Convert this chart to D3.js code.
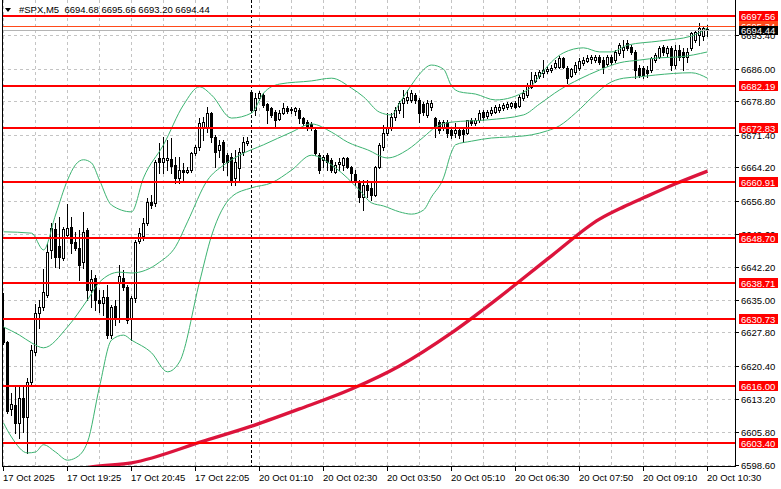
<!DOCTYPE html>
<html><head><meta charset="utf-8">
<script src="https://cdn.jsdelivr.net/npm/d3@7"></script>
<style>
body{margin:0;background:#fff}
svg{display:block}
text{font-family:"Liberation Sans",Arial,sans-serif;font-size:9.5px}
</style>
</head><body>
<svg id="c" width="781" height="489"></svg>
<script>
const symbol = "#SPX,M5";
const lastQuote = [6694.68, 6695.66, 6693.20, 6694.44];
const bidPrice = 6694.44;
const askPrice = 6695.34;

const opens = [6629.0,6625.7,6610.9,6611.8,6607.8,6613.3,6609.1,6616.9,6623.5,6632.1,6633.4,6636.0,6646.0,6650.6,6646.9,6644.2,6649.3,6651.1,6647.8,6646.4,
6643.3,6650.4,6637.2,6639.8,6635.0,6634.3,6635.6,6627.2,6633.6,6638.9,6639.8,6637.8,6631.0,6635.4,6648.0,6649.1,6651.9,6656.6,6656.4,6666.3,
6665.4,6665.9,6666.1,6664.7,6661.9,6663.6,6663.2,6663.6,6667.4,6668.7,6672.9,6672.9,6676.2,6670.9,6668.1,6669.8,6666.9,6666.5,6661.9,6664.1,
6667.6,6669.6,6680.9,6676.9,6679.5,6680.2,6678.2,6677.3,6676.4,6674.9,6676.2,6677.3,6676.9,6676.7,6676.9,6675.1,6674.2,6673.8,6672.5,6666.9,
6665.9,6666.9,6665.9,6663.2,6665.0,6664.7,6666.3,6664.3,6662.8,6660.8,6657.7,6660.3,6659.7,6658.1,6664.3,6668.7,6671.8,6672.9,6675.3,6676.9,
6678.4,6679.1,6679.1,6680.2,6679.1,6678.2,6675.8,6677.5,6675.1,6674.2,6673.1,6674.2,6672.5,6671.8,6672.5,6672.5,6671.8,6674.7,6674.0,6674.7,
6676.4,6675.6,6676.2,6676.4,6676.9,6677.3,6677.5,6677.8,6678.4,6677.8,6679.5,6680.2,6682.0,6683.3,6684.4,6685.1,6685.5,6685.7,6686.4,6686.4,
6688.4,6686.2,6684.4,6685.3,6686.2,6687.3,6687.7,6688.1,6687.9,6688.6,6687.9,6687.0,6688.6,6687.9,6689.5,6690.1,6691.7,6690.8,6689.7,6686.2,
6686.2,6685.7,6685.7,6687.9,6688.6,6690.8,6689.5,6690.6,6686.8,6690.1,6689.7,6688.6,6690.6,6692.3,6693.4,6693.2,6694.68];
const highs = [6636.5,6626.0,6614.4,6616.2,6615.8,6616.2,6617.7,6625.0,6634.1,6635.0,6641.8,6647.5,6652.0,6652.0,6653.3,6651.1,6656.1,6653.3,6650.0,6650.4,
6654.4,6650.8,6641.6,6640.5,6637.2,6637.2,6638.3,6633.9,6635.0,6642.7,6641.6,6638.3,6635.8,6648.2,6650.8,6653.1,6657.5,6658.1,6665.9,6669.6,
6670.9,6670.3,6670.7,6666.5,6666.5,6665.2,6664.3,6667.6,6669.2,6675.1,6675.3,6677.5,6676.4,6671.4,6670.3,6670.3,6667.4,6667.4,6668.1,6668.5,
6670.9,6670.9,6681.3,6680.6,6681.1,6680.6,6678.4,6677.5,6676.9,6676.9,6678.4,6677.8,6677.5,6677.5,6677.3,6675.3,6674.7,6674.2,6672.9,6667.4,
6666.9,6667.4,6666.3,6665.4,6666.3,6666.5,6666.5,6664.5,6663.6,6661.4,6661.4,6661.4,6660.8,6664.5,6669.6,6673.6,6676.2,6676.2,6677.5,6678.9,
6681.3,6681.3,6681.3,6680.6,6679.5,6678.6,6679.1,6679.1,6675.3,6674.7,6674.7,6674.7,6672.9,6674.0,6672.9,6672.9,6674.7,6675.1,6675.1,6676.9,
6676.9,6676.9,6677.5,6678.0,6678.2,6678.4,6678.6,6678.6,6678.9,6680.2,6681.3,6682.8,6685.3,6685.3,6685.7,6687.9,6686.6,6686.8,6687.9,6688.8,
6688.6,6686.6,6686.2,6687.5,6688.4,6688.6,6689.0,6689.0,6689.0,6689.0,6688.6,6689.0,6689.0,6690.1,6691.7,6692.3,6692.3,6691.2,6690.1,6686.8,
6686.6,6686.6,6688.6,6689.5,6691.0,6691.2,6691.0,6691.0,6691.2,6691.2,6690.6,6690.6,6694.1,6694.5,6696.1,6695.4,6695.66];
const lows = [6625.2,6610.0,6609.6,6605.6,6604.5,6605.8,6601.2,6616.4,6622.8,6628.8,6632.7,6635.6,6644.2,6642.2,6642.0,6643.8,6648.6,6645.3,6646.0,6639.4,
6642.0,6635.0,6633.4,6632.7,6632.3,6631.6,6626.6,6626.6,6629.4,6630.1,6637.2,6629.9,6626.1,6634.5,6647.5,6648.2,6651.5,6655.3,6655.7,6663.0,
6663.0,6663.6,6663.0,6660.8,6660.8,6661.0,6663.0,6663.2,6666.9,6668.1,6670.3,6672.0,6669.8,6664.3,6666.5,6663.6,6662.5,6660.3,6660.3,6661.0,
6666.9,6669.2,6676.4,6675.8,6679.1,6677.5,6674.0,6675.3,6673.1,6674.7,6676.0,6676.2,6676.2,6675.8,6674.0,6673.6,6672.5,6672.5,6666.9,6663.0,
6664.3,6663.6,6663.2,6663.0,6663.6,6663.6,6664.1,6661.0,6660.3,6656.6,6654.8,6657.7,6657.0,6657.9,6664.1,6668.1,6671.4,6672.5,6674.7,6676.2,
6675.3,6678.4,6678.6,6678.4,6674.2,6675.8,6675.3,6676.9,6670.9,6671.8,6672.5,6670.9,6670.7,6670.9,6670.7,6669.8,6671.6,6673.6,6673.6,6674.2,
6674.7,6675.1,6675.8,6676.2,6676.4,6676.9,6677.1,6677.3,6677.3,6677.5,6679.1,6679.8,6681.7,6683.1,6683.9,6684.2,6685.1,6685.3,6686.2,6686.2,
6686.2,6682.8,6684.2,6684.8,6685.7,6686.8,6687.5,6687.3,6687.5,6687.0,6685.1,6686.6,6687.0,6687.5,6689.0,6688.6,6690.1,6689.2,6683.9,6684.2,
6683.9,6684.2,6685.3,6687.5,6688.4,6689.0,6688.8,6685.7,6686.2,6687.9,6685.7,6687.5,6690.1,6691.9,6691.2,6692.3,6693.20];
const closes = [6625.7,6610.5,6612.0,6607.8,6613.3,6609.1,6616.9,6623.9,6632.1,6633.4,6636.7,6645.5,6650.8,6644.4,6644.4,6650.6,6650.8,6647.5,6646.4,6642.7,
6650.0,6637.2,6639.6,6635.0,6634.3,6635.6,6627.2,6633.4,6631.0,6640.2,6637.8,6630.5,6635.4,6647.8,6649.7,6651.9,6656.6,6655.9,6665.4,6665.4,
6666.3,6666.3,6664.5,6661.9,6663.6,6663.2,6663.6,6667.4,6668.7,6674.0,6674.2,6676.2,6670.9,6667.6,6669.2,6665.4,6665.4,6661.0,6665.4,6667.6,
6669.8,6670.0,6676.9,6679.5,6680.6,6678.0,6676.9,6675.8,6674.7,6676.2,6677.3,6676.7,6677.1,6677.3,6675.1,6674.0,6672.9,6672.9,6667.4,6663.6,
6666.5,6665.4,6663.6,6664.7,6665.4,6666.3,6664.3,6663.0,6661.0,6657.7,6660.3,6659.2,6658.1,6664.3,6669.2,6671.8,6673.1,6675.3,6676.9,6678.4,
6679.5,6679.8,6680.6,6679.1,6676.2,6676.4,6678.4,6678.4,6672.9,6672.5,6674.2,6671.8,6671.4,6672.5,6671.4,6671.6,6674.7,6674.0,6674.7,6676.2,
6675.3,6676.4,6676.9,6677.5,6677.5,6678.0,6678.2,6678.4,6677.5,6679.8,6680.6,6682.4,6683.5,6684.6,6685.3,6685.7,6685.9,6686.2,6687.3,6688.4,
6686.4,6683.9,6685.9,6686.8,6687.7,6687.9,6688.4,6688.6,6688.6,6687.5,6686.4,6688.6,6687.5,6689.7,6691.2,6690.8,6690.6,6689.7,6685.7,6684.6,
6684.6,6685.1,6688.4,6689.0,6690.6,6689.7,6690.6,6686.8,6690.1,6688.6,6688.6,6689.7,6693.9,6694.1,6695.0,6695.0,6694.44];

// Bollinger bands: [bar index, price]
const bbUpper = [[0,6650.0],[7,6649.7],[10,6646.0],[13,6653.7],[16,6661.4],[18,6664.8],[20,6665.9],[22,6665.2],[24,6661.4],[27,6655.9],
[32,6654.4],[35,6661.9],[40,6669.2],[45,6678.0],[49,6682.0],[52,6680.2],[57,6675.1],[62,6676.2],[65,6680.6],[69,6682.6],[77,6683.3],
[82,6683.9],[87,6681.7],[90,6679.8],[94,6676.4],[97,6675.8],[99,6678.4],[102,6682.4],[104,6684.8],[107,6686.8],[110,6685.9],[112,6682.2],
[114,6680.9],[118,6680.4],[123,6679.1],[131,6681.3],[134,6684.4],[137,6687.5],[140,6689.5],[145,6690.6],[149,6689.7],[152,6689.7],
[156,6691.2],[164,6692.1],[172,6693.2],[176,6695.0]];
const bbMiddle = [[0,6629.0],[4,6627.2],[7,6625.5],[10,6624.4],[16,6629.0],[21,6635.0],[24,6638.9],[29,6641.1],[32,6640.9],[39,6643.3],
[43,6646.7],[46,6652.2],[51,6661.4],[55,6664.7],[59,6666.9],[65,6669.2],[72,6672.0],[77,6673.8],[82,6672.0],[86,6669.8],[91,6668.1],
[96,6666.3],[101,6668.1],[105,6670.9],[108,6673.1],[112,6674.2],[121,6674.7],[130,6675.8],[134,6678.2],[139,6681.3],[144,6683.7],
[149,6685.7],[154,6687.3],[159,6687.9],[164,6688.4],[169,6688.6],[176,6689.7]];
const bbLower = [[0,6607.8],[2,6604.7],[6,6601.2],[8,6601.4],[10,6603.0],[13,6601.4],[16,6599.6],[18,6600.1],[21,6603.6],[24,6615.8],
[27,6626.1],[30,6627.2],[32,6626.1],[37,6623.3],[41,6619.1],[44,6621.3],[49,6638.9],[52,6649.1],[57,6657.7],[62,6659.7],[67,6660.8],
[72,6663.6],[77,6666.9],[83,6664.1],[89,6659.2],[92,6656.4],[95,6655.7],[99,6654.4],[102,6653.9],[105,6654.8],[107,6657.7],[110,6661.9],
[112,6667.6],[113,6669.2],[117,6670.0],[122,6670.7],[126,6670.9],[132,6671.4],[136,6672.3],[139,6673.4],[143,6676.2],[148,6680.4],
[151,6682.6],[155,6683.9],[159,6684.2],[163,6684.6],[172,6685.1],[176,6683.9]];
// Moving average: [bar index, price]
const maLine = [[15,6596.6],[22,6598.1],[32,6599.0],[50,6603.8],[62,6607.1],[74,6610.9],[87,6615.3],[99,6620.4],[112,6627.7],
[124,6635.6],[137,6644.7],[149,6652.8],[155,6655.5],[160,6657.5],[168,6660.6],[176,6663.4]];

const levels = [6697.56, 6682.19, 6672.83, 6660.91, 6648.70, 6638.71, 6630.73, 6616.00, 6603.40];
const priceTicks = [6598.60, 6605.80, 6613.20, 6620.40, 6627.80, 6635.00, 6642.20, 6649.60, 6656.80, 6664.20, 6671.40, 6678.80, 6686.00, 6693.40];
const timeTickIdx = [0, 16, 32, 48, 64, 80, 96, 112, 128, 144, 160, 176];
const timeLabels = ["17 Oct 2025","17 Oct 19:25","17 Oct 20:45","17 Oct 22:05","20 Oct 01:10","20 Oct 02:30","20 Oct 03:50","20 Oct 05:10","20 Oct 06:30","20 Oct 07:50","20 Oct 09:10","20 Oct 10:30"];
const daySeparatorIdx = 62;

const PL = 2, PR = 735, PT = 0, PB = 466;
const svg = d3.select("#c");
const y = d3.scaleLinear().domain([6598.6, 6697.56]).range([464.7, 16.3]);
const x = d3.scaleLinear().domain([0, 176]).range([3.5, 707.5]);

svg.append("defs").append("clipPath").attr("id","plot")
  .append("rect").attr("x",PL+1).attr("y",PT).attr("width",PR-PL-1).attr("height",PB-PT);

const plot = svg.append("g").attr("clip-path","url(#plot)");

// grid
plot.selectAll("line.hg").data(priceTicks).join("line").attr("class","hg")
  .attr("x1",PL).attr("x2",PR)
  .attr("y1",d=>Math.round(y(d))+0.5).attr("y2",d=>Math.round(y(d))+0.5)
  .attr("stroke","#c4c4c4").attr("stroke-dasharray","3,3");
plot.selectAll("line.vg").data(d3.range(0,184,8)).join("line").attr("class","vg")
  .attr("x1",d=>x(d)).attr("x2",d=>x(d)).attr("y1",PT).attr("y2",PB)
  .attr("stroke","#c4c4c4").attr("stroke-dasharray","3,3");
plot.append("line").attr("x1",x(daySeparatorIdx)).attr("x2",x(daySeparatorIdx))
  .attr("y1",PT).attr("y2",PB).attr("stroke","#000").attr("stroke-dasharray","3,2");

// candles
const bars = d3.range(opens.length).map(i=>({i,o:opens[i],h:highs[i],l:lows[i],c:closes[i]}));
const cg = plot.append("g");
cg.selectAll("line").data(bars).join("line")
  .attr("x1",d=>x(d.i)).attr("x2",d=>x(d.i))
  .attr("y1",d=>Math.round(y(d.h))).attr("y2",d=>Math.round(y(d.l))+1)
  .attr("stroke","#000");
cg.selectAll("rect").data(bars).join("rect")
  .attr("x",d=>x(d.i)-1).attr("width",2)
  .attr("y",d=>Math.round(y(Math.max(d.o,d.c)))+0.5)
  .attr("height",d=>Math.max(0,Math.round(y(Math.min(d.o,d.c)))-Math.round(y(Math.max(d.o,d.c)))))
  .attr("fill",d=>d.c>=d.o?"#fff":"#000").attr("stroke","#000");

// indicators
const ln = d3.line().x(d=>x(d[0])).y(d=>y(d[1])).curve(d3.curveMonotoneX);
[bbUpper,bbMiddle,bbLower].forEach(s=>{
  plot.append("path").attr("d",ln(s)).attr("fill","none").attr("stroke","#3cb371").attr("stroke-width",1);
});
plot.append("path").attr("d",ln(maLine)).attr("fill","none").attr("stroke","#dc143c").attr("stroke-width",3.4);

// level lines
plot.selectAll("line.lvl").data(levels).join("line").attr("class","lvl")
  .attr("x1",PL).attr("x2",PR).attr("y1",d=>Math.round(y(d))).attr("y2",d=>Math.round(y(d)))
  .attr("stroke","#ff0000").attr("stroke-width",2);
plot.append("line").attr("x1",PL).attr("x2",PR)
  .attr("y1",Math.round(y(askPrice))+0.5).attr("y2",Math.round(y(askPrice))+0.5)
  .attr("stroke","#ff4a1a").attr("stroke-width",1);
plot.append("line").attr("x1",PL).attr("x2",PR)
  .attr("y1",Math.round(y(bidPrice))+0.5).attr("y2",Math.round(y(bidPrice))+0.5)
  .attr("stroke","#b4b4b4").attr("stroke-width",1);

// frame
svg.append("line").attr("x1",PL+0.5).attr("x2",PL+0.5).attr("y1",PT).attr("y2",PB+0.5).attr("stroke","#000");
svg.append("line").attr("x1",PR+0.5).attr("x2",PR+0.5).attr("y1",PT).attr("y2",PB+0.5).attr("stroke","#000");
svg.append("line").attr("x1",PL).attr("x2",PR+1).attr("y1",PB+0.5).attr("y2",PB+0.5).attr("stroke","#000");

// price axis (grid labels first; level and quote labels are drawn over them as in the terminal)
const ax = svg.append("g");
priceTicks.forEach(p=>{
  const yy = Math.round(y(p));
  ax.append("line").attr("x1",PR).attr("x2",PR+4).attr("y1",yy+0.5).attr("y2",yy+0.5).attr("stroke","#000");
  ax.append("text").attr("x",741).attr("y",yy+4).attr("fill","#000").text(p.toFixed(2));
});
levels.forEach(v=>{
  const yy = Math.round(y(v));
  ax.append("rect").attr("x",739).attr("y",yy-5).attr("width",39).attr("height",10).attr("fill","#ff0000");
  ax.append("text").attr("x",741).attr("y",yy+4).attr("fill","#fff").text(v.toFixed(2));
});
{
  const ya = Math.round(y(askPrice));
  ax.append("rect").attr("x",739).attr("y",ya-5).attr("width",39).attr("height",10).attr("fill","#ff4a1a");
  ax.append("text").attr("x",741).attr("y",ya+4).attr("fill","#fff").text(askPrice.toFixed(2));
  const yb = Math.round(y(bidPrice));
  ax.append("rect").attr("x",739).attr("y",yb-4).attr("width",39).attr("height",9).attr("fill","#000");
  ax.append("text").attr("x",741).attr("y",yb+4).attr("fill","#fff").text(bidPrice.toFixed(2));
}

// time axis
timeTickIdx.forEach((idx,k)=>{
  const xx = Math.floor(x(idx))+0.5;
  svg.append("line").attr("x1",xx).attr("x2",xx).attr("y1",PB).attr("y2",PB+5).attr("stroke","#000");
  svg.append("text").attr("x",Math.floor(x(idx))).attr("y",481).attr("fill","#000").text(timeLabels[k]);
});

// header
svg.append("path").attr("d","M5,8 L11,8 L8,12 Z").attr("fill","#000");
svg.append("text").attr("x",19).attr("y",13).attr("fill","#000").style("white-space","pre")
  .text(symbol + "  " + lastQuote.map(v=>v.toFixed(2)).join(" "));
</script>
</body></html>
